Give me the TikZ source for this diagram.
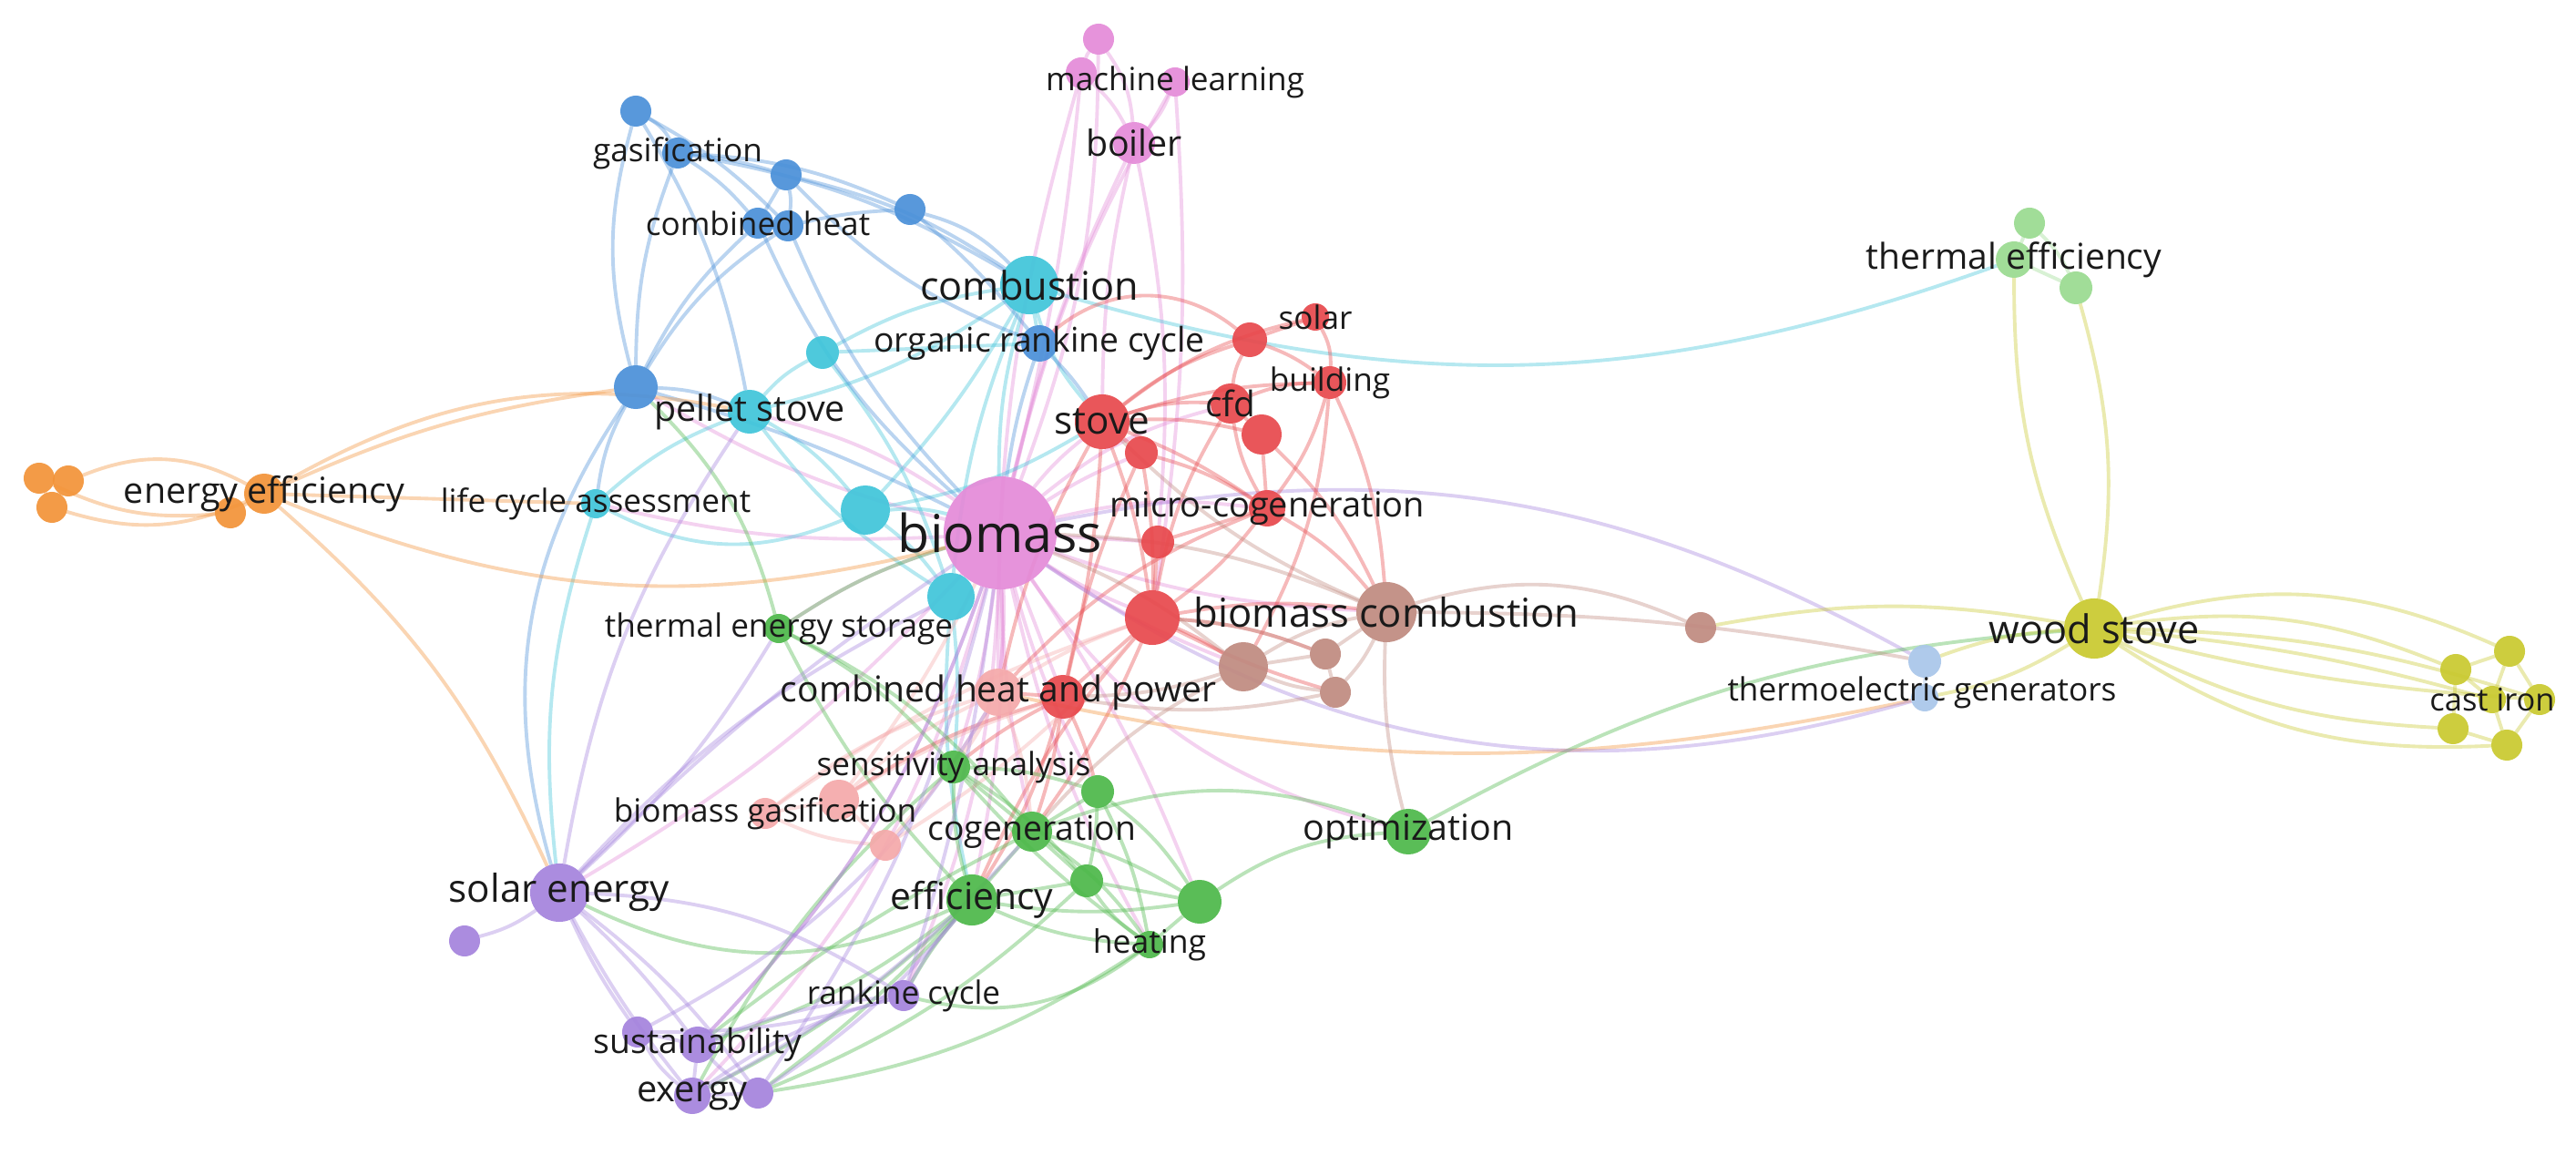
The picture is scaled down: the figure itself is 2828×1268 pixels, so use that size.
\documentclass[tikz,border=0pt]{standalone}
\usepackage{fontspec}
\setmainfont{Open Sans}
\definecolor{pk}{HTML}{E48AD8}
\definecolor{bl}{HTML}{4A90D9}
\definecolor{cy}{HTML}{3FC5DA}
\definecolor{rd}{HTML}{E8484C}
\definecolor{sa}{HTML}{F5A9AA}
\definecolor{gr}{HTML}{4CB849}
\definecolor{pu}{HTML}{A483DD}
\definecolor{br}{HTML}{C08A80}
\definecolor{or}{HTML}{F39338}
\definecolor{ye}{HTML}{C9C92E}
\definecolor{lg}{HTML}{9ADB90}
\definecolor{lbc}{HTML}{A9C6EA}
\definecolor{txt}{HTML}{1A1A1A}
\pgfdeclarelayer{bg}
\pgfdeclarelayer{edges}
\pgfdeclarelayer{labels}
\pgfsetlayers{bg,edges,main,labels}
\tikzset{
  vn/.style={circle, inner sep=0pt, outer sep=0pt, fill=#1, fill opacity=.92},
  ed/.style={draw=#1, line width=1.1pt, draw opacity=.38},
  lab/.style={inner sep=0pt, text=txt, font=\fontsize{#1}{#1}\selectfont},
}
\begin{document}
\begin{tikzpicture}[x=0.01cm,y=-0.01cm]
\begin{pgfonlayer}{bg}
\fill[white] (0,0) rectangle (2828,1268);
\end{pgfonlayer}
\useasboundingbox (0,0) rectangle (2828,1268);
% ---------- nodes ----------
% pink
\node[vn=pk, minimum size=1.24cm] (bio) at (1098,585) {};
\node[vn=pk, minimum size=.34cm] (pk1) at (1206,43) {};
\node[vn=pk, minimum size=.34cm] (pk2) at (1187,80) {};
\node[vn=pk, minimum size=.32cm] (ml) at (1290,90) {};
\node[vn=pk, minimum size=.46cm] (boiler) at (1245,157) {};
% blue
\node[vn=bl, minimum size=.34cm] (b1) at (698,122) {};
\node[vn=bl, minimum size=.34cm] (gasif) at (744,168) {};
\node[vn=bl, minimum size=.34cm] (b2) at (863,192) {};
\node[vn=bl, minimum size=.34cm] (chh) at (832,245) {};
\node[vn=bl, minimum size=.34cm] (b3) at (865,248) {};
\node[vn=bl, minimum size=.34cm] (b4) at (999,230) {};
\node[vn=bl, minimum size=.40cm] (orc) at (1141,377) {};
\node[vn=bl, minimum size=.48cm] (b5) at (698,425) {};
% cyan
\node[vn=cy, minimum size=.64cm] (comb) at (1130,313) {};
\node[vn=cy, minimum size=.36cm] (c1) at (903,387) {};
\node[vn=cy, minimum size=.48cm] (pellet) at (823,452) {};
\node[vn=cy, minimum size=.32cm] (lca) at (654,553) {};
\node[vn=cy, minimum size=.54cm] (c2) at (950,560) {};
\node[vn=cy, minimum size=.52cm] (c3) at (1044,655) {};
% red
\node[vn=rd, minimum size=.38cm] (r1) at (1372,373) {};
\node[vn=rd, minimum size=.30cm] (solar) at (1444,348) {};
\node[vn=rd, minimum size=.36cm] (building) at (1460,420) {};
\node[vn=rd, minimum size=.60cm] (stove) at (1210,463) {};
\node[vn=rd, minimum size=.36cm] (r2) at (1253,497) {};
\node[vn=rd, minimum size=.44cm] (cfd) at (1351,443) {};
\node[vn=rd, minimum size=.44cm] (r3) at (1385,477) {};
\node[vn=rd, minimum size=.40cm] (micro) at (1391,558) {};
\node[vn=rd, minimum size=.36cm] (r4) at (1271,595) {};
\node[vn=rd, minimum size=.60cm] (r5) at (1265,678) {};
\node[vn=rd, minimum size=.48cm] (r6) at (1167,765) {};
% salmon
\node[vn=sa, minimum size=.52cm] (chp) at (1096,760) {};
\node[vn=sa, minimum size=.44cm] (sa1) at (921,878) {};
\node[vn=sa, minimum size=.34cm] (bgas) at (840,893) {};
\node[vn=sa, minimum size=.34cm] (s2) at (972,928) {};
% green
\node[vn=gr, minimum size=.32cm] (tes) at (855,690) {};
\node[vn=gr, minimum size=.36cm] (sens) at (1047,842) {};
\node[vn=gr, minimum size=.36cm] (g1) at (1205,869) {};
\node[vn=gr, minimum size=.44cm] (cogen) at (1133,913) {};
\node[vn=gr, minimum size=.36cm] (g2) at (1193,967) {};
\node[vn=gr, minimum size=.56cm] (eff) at (1067,988) {};
\node[vn=gr, minimum size=.48cm] (g3) at (1317,990) {};
\node[vn=gr, minimum size=.30cm] (heating) at (1262,1037) {};
\node[vn=gr, minimum size=.50cm] (opt) at (1546,913) {};
% purple
\node[vn=pu, minimum size=.64cm] (solen) at (614,980) {};
\node[vn=pu, minimum size=.34cm] (p1) at (510,1033) {};
\node[vn=pu, minimum size=.34cm] (rank) at (992,1093) {};
\node[vn=pu, minimum size=.34cm] (p2) at (700,1133) {};
\node[vn=pu, minimum size=.40cm] (sust) at (766,1147) {};
\node[vn=pu, minimum size=.40cm] (exergy) at (760,1203) {};
\node[vn=pu, minimum size=.34cm] (p3) at (832,1200) {};
% brown
\node[vn=br, minimum size=.66cm] (bcomb) at (1522,672) {};
\node[vn=br, minimum size=.54cm] (br1) at (1365,732) {};
\node[vn=br, minimum size=.34cm] (br2) at (1455,718) {};
\node[vn=br, minimum size=.34cm] (br3) at (1466,760) {};
\node[vn=br, minimum size=.34cm] (br4) at (1867,689) {};
% orange
\node[vn=or, minimum size=.34cm] (o1) at (43,525) {};
\node[vn=or, minimum size=.34cm] (o2) at (75,528) {};
\node[vn=or, minimum size=.34cm] (o3) at (57,557) {};
\node[vn=or, minimum size=.44cm] (ee) at (290,542) {};
\node[vn=or, minimum size=.34cm] (o4) at (253,563) {};
% yellow
\node[vn=ye, minimum size=.66cm] (wood) at (2299,690) {};
\node[vn=ye, minimum size=.34cm] (ci1) at (2696,735) {};
\node[vn=ye, minimum size=.34cm] (ci2) at (2755,715) {};
\node[vn=ye, minimum size=.34cm] (ci3) at (2788,768) {};
\node[vn=ye, minimum size=.34cm] (ci4) at (2693,800) {};
\node[vn=ye, minimum size=.34cm] (ci5) at (2752,818) {};
\node[vn=ye, minimum size=.30cm] (cast) at (2736,768) {};
% light green
\node[vn=lg, minimum size=.34cm] (te1) at (2228,245) {};
\node[vn=lg, minimum size=.40cm] (teff) at (2211,285) {};
\node[vn=lg, minimum size=.36cm] (te2) at (2279,316) {};
% light blue
\node[vn=lbc, minimum size=.36cm] (teg1) at (2113,726) {};
\node[vn=lbc, minimum size=.30cm] (teg) at (2113,766) {};

% ---------- edges ----------
\begin{pgfonlayer}{edges}
% pink
\draw[ed=pk] (bio) to[bend right=10] (pk1);
\draw[ed=pk] (bio) to[bend right=4] (pk2);
\draw[ed=pk] (bio) to[bend left=8] (ml);
\draw[ed=pk] (bio) to[bend left=6] (boiler);
\draw[ed=pk] (pk1) to[bend right=10] (pk2);
\draw[ed=pk] (pk2) to[bend left=10] (boiler);
\draw[ed=pk] (ml) to[bend left=10] (boiler);
\draw[ed=pk] (pk1) to[bend left=15] (boiler);
\draw[ed=pk] (ml) to[bend left=6] (r5);
\draw[ed=pk] (pk2) to[bend right=8] (chp);
\draw[ed=pk] (boiler) to[bend right=6] (stove);
\draw[ed=pk] (boiler) to[bend left=8] (r4);
\draw[ed=pk] (bio) to[bend left=6] (stove);
\draw[ed=pk] (bio) to[bend left=5] (r2);
\draw[ed=pk] (bio) to (r4);
\draw[ed=pk] (bio) to[bend right=5] (r5);
\draw[ed=pk] (bio) to (r6);
\draw[ed=pk] (bio) to[bend left=4] (chp);
\draw[ed=pk] (bio) to[bend left=5] (sens);
\draw[ed=pk] (bio) to[bend right=5] (cogen);
\draw[ed=pk] (bio) to[bend left=6] (eff);
\draw[ed=pk] (bio) to[bend right=6] (g1);
\draw[ed=pk] (bio) to[bend left=10] (rank);
\draw[ed=pk] (bio) to[bend left=12] (sust);
\draw[ed=pk] (bio) to[bend left=14] (exergy);
\draw[ed=pk] (bio) to[bend left=8] (solen);
\draw[ed=pk] (bio) to[bend right=8] (tes);
\draw[ed=pk] (bio) to[bend left=8] (lca);
\draw[ed=pk] (bio) to[bend right=10] (pellet);
\draw[ed=pk] (bio) to[bend left=8] (b5);
\draw[ed=pk] (bio) to[bend left=10] (micro);
\draw[ed=pk] (bio) to[bend right=8] (bcomb);
\draw[ed=pk] (bio) to[bend right=6] (br1);
\draw[ed=pk] (bio) to[bend left=12] (cfd);
\draw[ed=pk] (bio) to[bend right=20] (opt);
\draw[ed=pk] (bio) to[bend right=8] (heating);
\draw[ed=pk] (bio) to[bend left=6] (g3);
% cyan
\draw[ed=cy] (comb) to[bend right=8] (bio);
\draw[ed=cy] (comb) to[bend right=10] (c1);
\draw[ed=cy] (comb) to[bend left=10] (pellet);
\draw[ed=cy] (comb) to[bend right=8] (c3);
\draw[ed=cy] (comb) to[bend left=6] (c2);
\draw[ed=cy] (comb) to (orc);
\draw[ed=cy] (comb) to[bend right=18] (teff);
\draw[ed=cy] (comb) to[bend right=12] (stove);
\draw[ed=cy] (c1) to[bend right=10] (pellet);
\draw[ed=cy] (c1) to[bend left=10] (c3);
\draw[ed=cy] (c1) to (orc);
\draw[ed=cy] (pellet) to[bend right=10] (lca);
\draw[ed=cy] (pellet) to[bend left=10] (c2);
\draw[ed=cy] (pellet) to[bend right=10] (c3);
\draw[ed=cy] (lca) to[bend right=25] (c2);
\draw[ed=cy] (lca) to[bend right=12] (solen);
\draw[ed=cy] (c2) to[bend left=8] (c3);
\draw[ed=cy] (c3) to[bend left=5] (sens);
\draw[ed=cy] (c3) to[bend right=8] (eff);
\draw[ed=cy] (c2) to[bend left=10] (bio);
\draw[ed=cy] (c2) to[bend right=10] (stove);
% blue
\draw[ed=bl] (b1) to[bend left=15] (gasif);
\draw[ed=bl] (b1) to[bend right=15] (b5);
\draw[ed=bl] (b1) to[bend left=10] (pellet);
\draw[ed=bl] (b1) to[bend left=8] (b3);
\draw[ed=bl] (gasif) to[bend left=5] (b2);
\draw[ed=bl] (gasif) to[bend left=8] (chh);
\draw[ed=bl] (gasif) to[bend left=10] (b4);
\draw[ed=bl] (gasif) to[bend right=10] (b5);
\draw[ed=bl] (gasif) to[bend left=10] (comb);
\draw[ed=bl] (b2) to (chh);
\draw[ed=bl] (b2) to[bend left=10] (b3);
\draw[ed=bl] (b2) to[bend left=10] (comb);
\draw[ed=bl] (chh) to (b3);
\draw[ed=bl] (b3) to[bend left=5] (b4);
\draw[ed=bl] (chh) to[bend right=10] (b5);
\draw[ed=bl] (b3) to[bend right=12] (b5);
\draw[ed=bl] (chh) to[bend right=12] (bio);
\draw[ed=bl] (b3) to[bend right=10] (bio);
\draw[ed=bl] (b2) to[bend right=12] (orc);
\draw[ed=bl] (b4) to[bend left=15] (comb);
\draw[ed=bl] (b4) to[bend left=5] (orc);
\draw[ed=bl] (orc) to[bend left=5] (stove);
\draw[ed=bl] (orc) to[bend right=5] (bio);
\draw[ed=bl] (b5) to[bend left=10] (pellet);
\draw[ed=bl] (b5) to[bend right=10] (lca);
\draw[ed=bl] (b5) to[bend right=25] (solen);
\draw[ed=bl] (b5) to[bend left=5] (bio);
% light blue
\draw[ed=lbc] (teg1) to (teg);
\draw[ed=pu] (bio) to[bend left=20] (teg1);
% red
\draw[ed=rd] (stove) to (r2);
\draw[ed=rd] (stove) to[bend left=10] (cfd);
\draw[ed=rd] (stove) to[bend left=8] (r3);
\draw[ed=rd] (stove) to[bend left=10] (r1);
\draw[ed=rd] (stove) to[bend left=12] (solar);
\draw[ed=rd] (stove) to[bend left=8] (building);
\draw[ed=rd] (stove) to[bend left=6] (micro);
\draw[ed=rd] (stove) to[bend left=6] (r5);
\draw[ed=rd] (stove) to[bend left=5] (r6);
\draw[ed=rd] (stove) to[bend right=8] (chp);
\draw[ed=rd] (r2) to[bend left=5] (r5);
\draw[ed=rd] (r2) to[bend left=8] (micro);
\draw[ed=rd] (r2) to[bend right=6] (r6);
\draw[ed=rd] (cfd) to (r3);
\draw[ed=rd] (cfd) to[bend left=10] (r1);
\draw[ed=rd] (cfd) to[bend left=10] (building);
\draw[ed=rd] (cfd) to[bend right=10] (micro);
\draw[ed=rd] (cfd) to[bend right=10] (r5);
\draw[ed=rd] (r1) to (solar);
\draw[ed=rd] (r1) to[bend left=8] (building);
\draw[ed=rd] (solar) to[bend left=15] (building);
\draw[ed=rd] (building) to[bend left=10] (micro);
\draw[ed=rd] (building) to[bend left=12] (br1);
\draw[ed=rd] (building) to[bend left=10] (bcomb);
\draw[ed=rd] (r3) to (micro);
\draw[ed=rd] (r3) to[bend left=10] (bcomb);
\draw[ed=rd] (micro) to[bend left=8] (r5);
\draw[ed=rd] (micro) to[bend left=10] (bcomb);
\draw[ed=rd] (micro) to (r4);
\draw[ed=rd] (micro) to[bend right=12] (chp);
\draw[ed=rd] (r4) to (r5);
\draw[ed=rd] (r5) to (r6);
\draw[ed=rd] (r5) to[bend left=5] (br1);
\draw[ed=rd] (r5) to[bend left=8] (bcomb);
\draw[ed=rd] (r5) to[bend right=8] (eff);
\draw[ed=rd] (r5) to[bend left=6] (cogen);
\draw[ed=rd] (r5) to[bend left=8] (br2);
\draw[ed=rd] (r5) to[bend right=5] (br3);
\draw[ed=rd] (r6) to (chp);
\draw[ed=rd] (r6) to[bend left=5] (cogen);
\draw[ed=rd] (r6) to[bend right=5] (sens);
\draw[ed=rd] (r6) to[bend left=5] (g1);
\draw[ed=rd] (r6) to[bend right=8] (sa1);
\draw[ed=rd] (r6) to[bend left=8] (eff);
\draw[ed=rd] (orc) to[bend left=40] (r1);
\draw[ed=or] (chp) to[bend right=12] (teg);
% salmon
\draw[ed=sa] (chp) to[bend right=8] (sa1);
\draw[ed=sa] (chp) to[bend right=10] (bgas);
\draw[ed=sa] (chp) to[bend left=5] (s2);
\draw[ed=sa] (sa1) to (bgas);
\draw[ed=sa] (sa1) to (s2);
\draw[ed=sa] (bgas) to[bend right=10] (s2);
\draw[ed=sa] (chp) to[bend left=5] (sens);
\draw[ed=sa] (chp) to[bend left=8] (cogen);
\draw[ed=sa] (sa1) to[bend left=6] (r6);
\draw[ed=sa] (sa1) to[bend right=5] (bio);
\draw[ed=sa] (bgas) to[bend left=8] (r5);
\draw[ed=sa] (s2) to[bend right=8] (r5);
\draw[ed=sa] (chp) to[bend left=6] (r5);
% green
\draw[ed=gr] (tes) to[bend left=8] (bio);
\draw[ed=gr] (tes) to[bend left=10] (sens);
\draw[ed=gr] (tes) to[bend right=8] (eff);
\draw[ed=gr] (tes) to[bend right=15] (b5);
\draw[ed=gr] (tes) to[bend left=12] (cogen);
\draw[ed=gr] (sens) to (cogen);
\draw[ed=gr] (sens) to[bend left=8] (g1);
\draw[ed=gr] (sens) to[bend right=8] (eff);
\draw[ed=gr] (sens) to[bend left=8] (g2);
\draw[ed=gr] (sens) to[bend right=6] (heating);
\draw[ed=gr] (sens) to[bend right=10] (exergy);
\draw[ed=gr] (g1) to (cogen);
\draw[ed=gr] (g1) to[bend left=5] (g2);
\draw[ed=gr] (g1) to[bend left=10] (g3);
\draw[ed=gr] (g1) to[bend left=8] (heating);
\draw[ed=gr] (cogen) to (eff);
\draw[ed=gr] (cogen) to (g2);
\draw[ed=gr] (cogen) to[bend left=8] (g3);
\draw[ed=gr] (cogen) to[bend left=10] (heating);
\draw[ed=gr] (cogen) to[bend left=20] (opt);
\draw[ed=gr] (eff) to (g2);
\draw[ed=gr] (eff) to[bend right=10] (heating);
\draw[ed=gr] (eff) to[bend right=8] (g3);
\draw[ed=gr] (g2) to (g3);
\draw[ed=gr] (g2) to[bend right=10] (heating);
\draw[ed=gr] (g3) to (heating);
\draw[ed=gr] (g3) to[bend left=15] (opt);
\draw[ed=gr] (solen) to[bend right=25] (eff);
\draw[ed=gr] (eff) to[bend left=10] (sust);
\draw[ed=gr] (eff) to[bend left=8] (exergy);
\draw[ed=gr] (eff) to[bend left=5] (p3);
\draw[ed=gr] (eff) to[bend right=5] (rank);
\draw[ed=gr] (heating) to[bend left=25] (rank);
\draw[ed=gr] (heating) to[bend left=12] (p3);
\draw[ed=gr] (cogen) to[bend right=5] (sust);
\draw[ed=gr] (g2) to[bend left=10] (p3);
\draw[ed=gr] (opt) to[bend left=12] (wood);
% purple
\draw[ed=pu] (solen) to[bend left=10] (p1);
\draw[ed=pu] (solen) to[bend right=5] (p2);
\draw[ed=pu] (solen) to[bend left=5] (sust);
\draw[ed=pu] (solen) to[bend right=5] (exergy);
\draw[ed=pu] (solen) to[bend left=8] (p3);
\draw[ed=pu] (solen) to[bend left=15] (rank);
\draw[ed=pu] (solen) to[bend left=5] (bio);
\draw[ed=pu] (solen) to[bend left=10] (c3);
\draw[ed=pu] (solen) to[bend left=12] (pellet);
\draw[ed=pu] (solen) to[bend right=8] (tes);
\draw[ed=pu] (p2) to (sust);
\draw[ed=pu] (p2) to[bend right=10] (exergy);
\draw[ed=pu] (sust) to (exergy);
\draw[ed=pu] (sust) to[bend right=8] (p3);
\draw[ed=pu] (exergy) to (p3);
\draw[ed=pu] (rank) to[bend right=8] (sust);
\draw[ed=pu] (rank) to[bend left=8] (p2);
\draw[ed=pu] (rank) to[bend right=10] (exergy);
\draw[ed=pu] (rank) to[bend right=5] (bio);
\draw[ed=pu] (rank) to[bend left=6] (eff);
\draw[ed=pu] (p3) to[bend right=8] (eff);
\draw[ed=pu] (p3) to[bend right=10] (bio);
\draw[ed=pu] (sust) to[bend right=12] (bio);
\draw[ed=pu] (exergy) to[bend right=10] (cogen);
\draw[ed=pu] (p2) to[bend right=15] (chp);
\draw[ed=pu] (bio) to[bend right=25] (teg);
% brown
\draw[ed=br] (bcomb) to[bend right=10] (br1);
\draw[ed=br] (bcomb) to (br2);
\draw[ed=br] (bcomb) to[bend left=8] (br3);
\draw[ed=br] (br1) to (br2);
\draw[ed=br] (br1) to[bend right=8] (br3);
\draw[ed=br] (br2) to (br3);
\draw[ed=br] (bcomb) to[bend left=20] (br4);
\draw[ed=br] (bcomb) to[bend right=8] (opt);
\draw[ed=br] (bcomb) to[bend left=5] (teg1);
\draw[ed=br] (bcomb) to[bend right=10] (bio);
\draw[ed=br] (bcomb) to[bend left=10] (stove);
\draw[ed=br] (br1) to[bend right=8] (bio);
\draw[ed=br] (br1) to[bend left=8] (r6);
\draw[ed=br] (br1) to[bend right=10] (cogen);
\draw[ed=br] (br2) to[bend right=8] (r5);
\draw[ed=br] (br3) to[bend left=10] (r6);
% orange
\draw[ed=or] (o1) to (o2);
\draw[ed=or] (o2) to (o3);
\draw[ed=or] (o1) to (o3);
\draw[ed=or] (ee) to (o4);
\draw[ed=or] (ee) to[bend right=25] (o2);
\draw[ed=or] (ee) to[bend left=20] (o3);
\draw[ed=or] (o4) to[bend left=15] (o1);
\draw[ed=or] (ee) to[bend left=20] (pellet);
\draw[ed=or] (ee) to[bend left=8] (b5);
\draw[ed=or] (ee) to (lca);
\draw[ed=or] (ee) to[bend right=18] (bio);
\draw[ed=or] (ee) to[bend left=12] (solen);
% yellow
\draw[ed=ye] (wood) to[bend left=15] (ci1);
\draw[ed=ye] (wood) to[bend left=20] (ci2);
\draw[ed=ye] (wood) to[bend left=5] (cast);
\draw[ed=ye] (wood) to[bend left=8] (ci3);
\draw[ed=ye] (wood) to[bend right=5] (ci3);
\draw[ed=ye] (wood) to[bend right=12] (ci4);
\draw[ed=ye] (wood) to[bend right=18] (ci5);
\draw[ed=ye] (ci1) to (ci2);
\draw[ed=ye] (ci2) to (ci3);
\draw[ed=ye] (ci3) to (ci5);
\draw[ed=ye] (ci5) to (ci4);
\draw[ed=ye] (ci4) to (ci1);
\draw[ed=ye] (ci1) to (cast);
\draw[ed=ye] (ci2) to (cast);
\draw[ed=ye] (ci5) to (cast);
\draw[ed=ye] (wood) to[bend left=12] (teff);
\draw[ed=ye] (wood) to[bend right=12] (te2);
\draw[ed=ye] (wood) to[bend right=8] (teg1);
\draw[ed=ye] (wood) to[bend left=10] (teg);
\draw[ed=ye] (wood) to[bend right=10] (br4);
% light green
\draw[ed=lg] (te1) to (teff);
\draw[ed=lg] (teff) to (te2);
\draw[ed=lg] (te1) to[bend left=10] (te2);
\end{pgfonlayer}

% ---------- labels ----------
\begin{pgfonlayer}{labels}
\node[lab=16.3] (t-bio) at (bio) {biomass};
\node[lab=10] (t-ml) at (ml) {machine learning};
\node[lab=11.2] (t-boiler) at (boiler) {boiler};
\node[lab=10] (t-gasif) at (gasif) {gasification};
\node[lab=10] (t-chh) at (chh) {combined heat};
\node[lab=12.3] (t-comb) at (comb) {combustion};
\node[lab=10.6] (t-orc) at (orc) {organic rankine cycle};
\node[lab=10] (t-solar) at (solar) {solar};
\node[lab=10] (t-building) at (building) {building};
\node[lab=11.2] (t-pellet) at (pellet) {pellet stove};
\node[lab=12] (t-stove) at (stove) {stove};
\node[lab=11] (t-cfd) at (cfd) {cfd};
\node[lab=11.2] (t-ee) at (ee) {energy efficiency};
\node[lab=10] (t-lca) at (lca) {life cycle assessment};
\node[lab=10.8] (t-micro) at (micro) {micro-cogeneration};
\node[lab=12.4] (t-bcomb) at (bcomb) {biomass combustion};
\node[lab=10] (t-tes) at (tes) {thermal energy storage};
\node[lab=12.3] (t-wood) at (wood) {wood stove};
\node[lab=10] (t-teg) at (2110,760) {thermoelectric generators};
\node[lab=11.1] (t-chp) at (chp) {combined heat and power};
\node[lab=9.8] (t-cast) at (cast) {cast iron};
\node[lab=11.1] (t-teff) at (teff) {thermal efficiency};
\node[lab=10] (t-sens) at (sens) {sensitivity analysis};
\node[lab=10] (t-bgas) at (bgas) {biomass gasification};
\node[lab=10.6] (t-cogen) at (cogen) {cogeneration};
\node[lab=11.2] (t-opt) at (opt) {optimization};
\node[lab=12] (t-solen) at (solen) {solar energy};
\node[lab=11.6] (t-eff) at (eff) {efficiency};
\node[lab=10.1] (t-heating) at (heating) {heating};
\node[lab=10] (t-rank) at (rank) {rankine cycle};
\node[lab=10.6] (t-sust) at (sust) {sustainability};
\node[lab=11.3] (t-exergy) at (exergy) {exergy};
\end{pgfonlayer}
\end{tikzpicture}
\end{document}
